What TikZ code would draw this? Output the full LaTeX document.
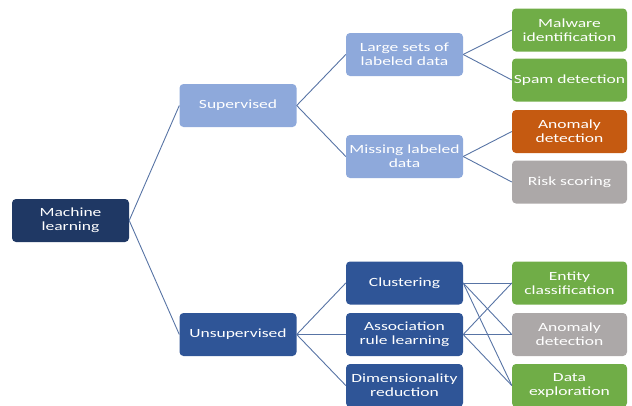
\documentclass[tikz,border=0pt]{standalone}
\usepackage{fontspec}
\newfontfamily\boxfont{Carlito}[FakeStretch=1.4]
\definecolor{mlnavy}{RGB}{31, 56, 100}
\definecolor{supblue}{RGB}{142, 169, 219}
\definecolor{unsblue}{RGB}{47, 85, 151}
\definecolor{leafgreen}{RGB}{112, 173, 71}
\definecolor{leaforange}{RGB}{197, 90, 17}
\definecolor{leafgrey}{RGB}{172, 168, 168}
\definecolor{linkblue}{RGB}{88, 116, 165}
\tikzset{
  catbox/.style={rounded corners=4pt, text=white, align=center, inner sep=0pt,
    minimum width=117pt, minimum height=43pt,
    font=\boxfont\fontsize{12.5}{14}\selectfont},
  leafbox/.style={catbox, minimum width=115pt},
  link/.style={draw=linkblue, line width=0.9pt}
}

\begin{document}
\begin{tikzpicture}[x=1pt, y=-1pt]
  \useasboundingbox (0,0) rectangle (632,405);

  % Root
  \node[catbox, fill=mlnavy] (ml) at (70.5, 220.5) {Machine\\learning};

  % Learning type
  \node[catbox, fill=supblue] (sup) at (238, 105.5) {Supervised};
  \node[catbox, fill=unsblue] (uns) at (238, 334.5) {Unsupervised};

  % Supervised branch
  \node[catbox, fill=supblue] (large) at (404.5, 54.5) {Large sets of\\labeled data};
  \node[catbox, fill=supblue] (missing) at (404.5, 156.5) {Missing labeled\\data};

  \node[leafbox, fill=leafgreen] (malware) at (569.5, 30) {Malware\\identification};
  \node[leafbox, fill=leafgreen] (spam) at (569.5, 80) {Spam detection};
  \node[leafbox, fill=leaforange] (anomsup) at (569.5, 131.5) {Anomaly\\detection};
  \node[leafbox, fill=leafgrey] (risk) at (569.5, 182) {Risk scoring};

  % Unsupervised branch
  \node[catbox, fill=unsblue] (clust) at (404.5, 283) {Clustering};
  \node[catbox, fill=unsblue] (assoc) at (404.5, 334.5) {Association\\rule learning};
  \node[catbox, fill=unsblue] (dimred) at (404.5, 385.5) {Dimensionality\\reduction};

  \node[leafbox, fill=leafgreen] (entity) at (569.5, 283) {Entity\\classification};
  \node[leafbox, fill=leafgrey] (anomuns) at (569.5, 334.5) {Anomaly\\detection};
  \node[leafbox, fill=leafgreen] (explore) at (569.5, 385.5) {Data\\exploration};

  % Connectors
  \draw[link] (ml.east) -- (sup.west);
  \draw[link] (ml.east) -- (uns.west);
  \draw[link] (sup.east) -- (large.west);
  \draw[link] (sup.east) -- (missing.west);
  \draw[link] (large.east) -- (malware.west);
  \draw[link] (large.east) -- (spam.west);
  \draw[link] (missing.east) -- (anomsup.west);
  \draw[link] (missing.east) -- (risk.west);
  \draw[link] (uns.east) -- (clust.west);
  \draw[link] (uns.east) -- (assoc.west);
  \draw[link] (uns.east) -- (dimred.west);
  \foreach \src in {clust, assoc}
    \foreach \dst in {entity, anomuns, explore}
      \draw[link] (\src.east) -- (\dst.west);
\end{tikzpicture}
\end{document}
